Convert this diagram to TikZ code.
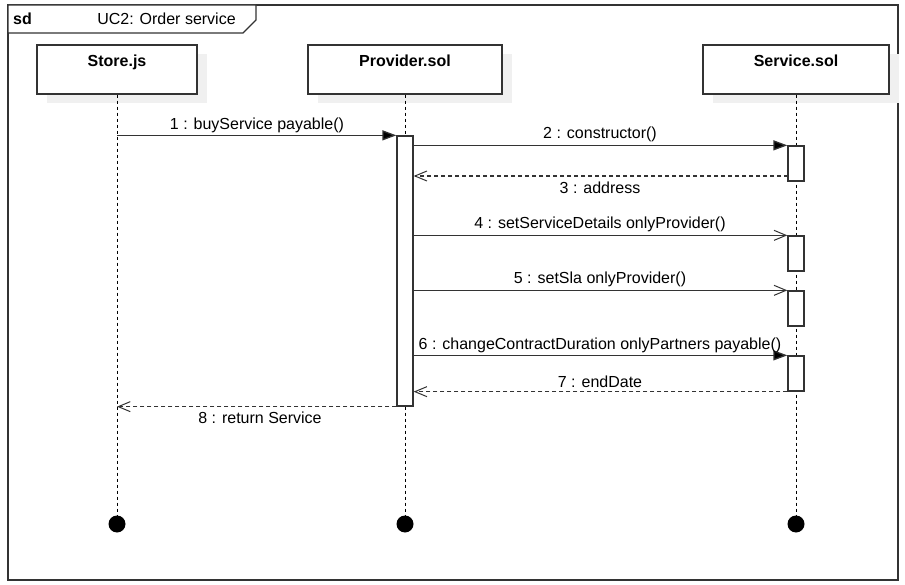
\documentclass[tikz,border=0pt]{standalone}
\usepackage{fontspec}
\setmainfont{Liberation Sans}
\usetikzlibrary{arrows.meta,shadows}
\definecolor{ln}{HTML}{333333}
\definecolor{shd}{HTML}{F0F0F0}
\tikzset{
  head/.style={draw=ln, fill=white, line width=1.3pt, minimum height=49pt, inner sep=0pt,
    drop shadow={shadow xshift=10pt, shadow yshift=-9pt, fill=shd, opacity=1, draw=none}},
  htxt/.style={anchor=base, yshift=-22.5pt, font=\fontsize{16}{19}\selectfont\bfseries},
  actbar/.style={draw=ln, fill=white, line width=1.3pt, minimum width=16pt, inner sep=0pt},
  lifeline/.style={draw=black, line width=1pt, dash pattern=on 3pt off 3pt},
  enddot/.style={circle, fill=black, minimum size=17pt, inner sep=0pt},
  syncmsg/.style={draw=ln, line width=1.3pt, -{Triangle[length=14pt,width=10pt,fill=black]}},
  asyncmsg/.style={draw=ln, line width=1.3pt, -{Straight Barb[length=12pt,width=10pt,line width=1pt]}},
  retmsg/.style={draw=ln, line width=1.3pt, dash pattern=on 4pt off 3pt, -{Straight Barb[length=12pt,width=10pt,line width=1pt,sep=0pt]}},
  lbl/.style={anchor=base, inner sep=0pt, text=black}
}
\begin{document}
\begin{tikzpicture}[x=1pt, y=-1pt, font=\fontsize{16}{19}\selectfont]
\useasboundingbox (0,0) rectangle (905,585);
\fill[white] (0,0) rectangle (905,585);
% frame
\draw[ln, line width=1.3pt] (8,5) rectangle (898,580);
\draw[ln, line width=1.3pt, fill=white] (8,5) -- (256,5) -- (256,20) -- (243,33) -- (8,33) -- cycle;
\node[lbl, font=\fontsize{16}{19}\selectfont\bfseries, anchor=base west] (sd) at (13,25) {sd};
\node[lbl] (title) at (166.5,25) {UC2: Order service};

% lifeline heads
\node[head, minimum width=160pt, label={[htxt]north:Store.js}] (store) at (117,69.5) {};
\node[head, minimum width=194pt, label={[htxt]north:Provider.sol}] (prov) at (405,69.5) {};
\node[head, minimum width=186pt, label={[htxt]north:Service.sol}] (serv) at (796,69.5) {};

% end dots
\node[enddot] (dstore) at (117,524) {};
\node[enddot] (dprov) at (405,524) {};
\node[enddot] (dserv) at (796,524) {};

% lifelines
\draw[lifeline] (store.south) -- (dstore.north);
\draw[lifeline] (prov.south) -- (dprov.north);
\draw[lifeline] (serv.south) -- (dserv.north);

% activation bars
\node[actbar, minimum height=270pt] (pa) at (405,271) {};
\node[actbar, minimum height=35pt] (sa1) at (796,163.5) {};
\node[actbar, minimum height=35pt] (sa2) at (796,253.5) {};
\node[actbar, minimum height=35pt] (sa3) at (796,308.5) {};
\node[actbar, minimum height=35pt] (sa4) at (796,373.5) {};

% coordinates for message ends
\coordinate (m1s) at (store |- pa.north);
\coordinate (m2s) at (pa.east |- sa1.north);
\coordinate (m3s) at (796-8,176);
\coordinate (m3e) at (pa.east |- m3s);
\coordinate (m4s) at (pa.east |- sa2.north);
\coordinate (m5s) at (pa.east |- sa3.north);
\coordinate (m6s) at (pa.east |- sa4.north);
\coordinate (m7e) at (pa.east |- sa4.south);
\coordinate (m8e) at (store |- pa.south);

% messages
\draw[syncmsg] (m1s) -- (pa.north west);
\node[lbl] (l1) at (257,129.5) {1 : buyService payable()};
\draw[syncmsg] (m2s) -- (sa1.north west);
\node[lbl] (l2) at (600,139) {2 : constructor()};
\draw[retmsg] (m3s) -- (m3e);
\node[lbl] (l3) at (600,194) {3 : address};
\draw[asyncmsg] (m4s) -- (sa2.north west);
\node[lbl] (l4) at (600,229) {4 : setServiceDetails onlyProvider()};
\draw[asyncmsg] (m5s) -- (sa3.north west);
\node[lbl] (l5) at (600,284) {5 : setSla onlyProvider()};
\draw[syncmsg] (m6s) -- (sa4.north west);
\node[lbl] (l6) at (600,349) {6 : changeContractDuration onlyPartners payable()};
\draw[retmsg] (sa4.south west) -- (m7e);
\node[lbl] (l7) at (600,387) {7 : endDate};
\draw[retmsg] (pa.south west) -- (m8e);
\node[lbl] (l8) at (260,423) {8 : return Service};
\end{tikzpicture}
\end{document}
